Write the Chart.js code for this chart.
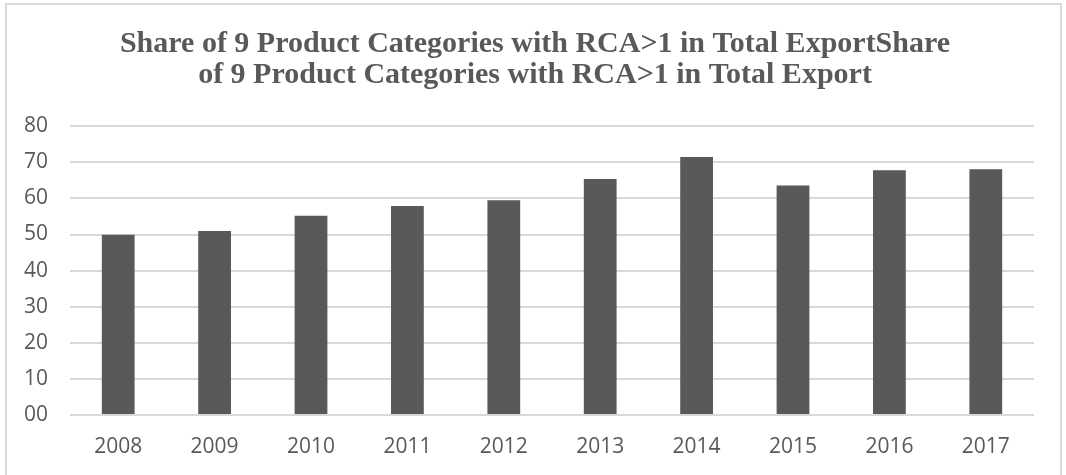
<!DOCTYPE html>
<html>
<head>
<meta charset="utf-8">
<script src="https://cdn.jsdelivr.net/npm/chart.js@4/dist/chart.umd.min.js"></script>
<style>
  html, body { margin: 0; padding: 0; background: #fff; }
  #wrap { position: relative; width: 1066px; height: 475px; overflow: hidden; }
  #frame { position: absolute; left: 5px; top: 3px; width: 1057px; height: 490px;
           border: 2px solid #d9d9d9; box-sizing: border-box; }
  canvas { position: absolute; left: 0; top: 0; }
</style>
</head>
<body>
<div id="wrap">
  <div id="frame"></div>
  <canvas id="chart" width="1066" height="475"></canvas>
</div>
<script>
const years = [`2008`, `2009`, `2010`, `2011`, `2012`, `2013`, `2014`, `2015`, `2016`, `2017`]
const shares = [49.9, 51.0, 55.2, 57.9, 59.5, 65.4, 71.5, 63.6, 67.8, 68.1]
const title_lines = [
    `Share of 9 Product Categories with RCA>1 in Total ExportShare`,
    `of 9 Product Categories with RCA>1 in Total Export`
]

const grey = `#595959`
const tick_font = { family: `'Open Sans', 'Liberation Sans', sans-serif`, size: 21 }

const ctx = document.getElementById(`chart`).getContext(`2d`)
new Chart(ctx, {
    type: `bar`,
    data: {
        labels: years,
        datasets: [{
            data: shares,
            backgroundColor: grey,
            barPercentage: 0.34,
            categoryPercentage: 1
        }]
    },
    options: {
        responsive: false,
        animation: false,
        layout: { padding: { left: 4, right: 0, top: 0, bottom: 0 } },
        plugins: {
            legend: { display: false },
            tooltip: { enabled: false },
            title: {
                display: true,
                text: title_lines,
                color: grey,
                font: { family: `'Liberation Serif', 'Times New Roman', serif`, size: 30, weight: `bold`, lineHeight: 1.02 },
                padding: { top: 29, bottom: 36 }
            }
        },
        scales: {
            x: {
                grid: { display: false },
                border: { display: false },
                ticks: { color: grey, font: tick_font, padding: 11 },
                afterFit: (scale) => { scale.height = 60 }
            },
            y: {
                min: 0,
                max: 80,
                ticks: {
                    stepSize: 10,
                    color: grey,
                    font: tick_font,
                    padding: 22,
                    callback: (v) => v === 0 ? `00` : `${v}`
                },
                grid: { color: `#d9d9d9`, lineWidth: 2, drawTicks: false },
                border: { display: false },
                afterFit: (scale) => { scale.width = 66 }
            },
            // empty right-hand scale, only to keep space beside the plot
            y_right: {
                position: `right`,
                min: 0,
                max: 80,
                ticks: { display: false },
                grid: { display: false },
                border: { display: false },
                afterFit: (scale) => { scale.width = 32 }
            }
        }
    }
})
</script>
</body>
</html>
